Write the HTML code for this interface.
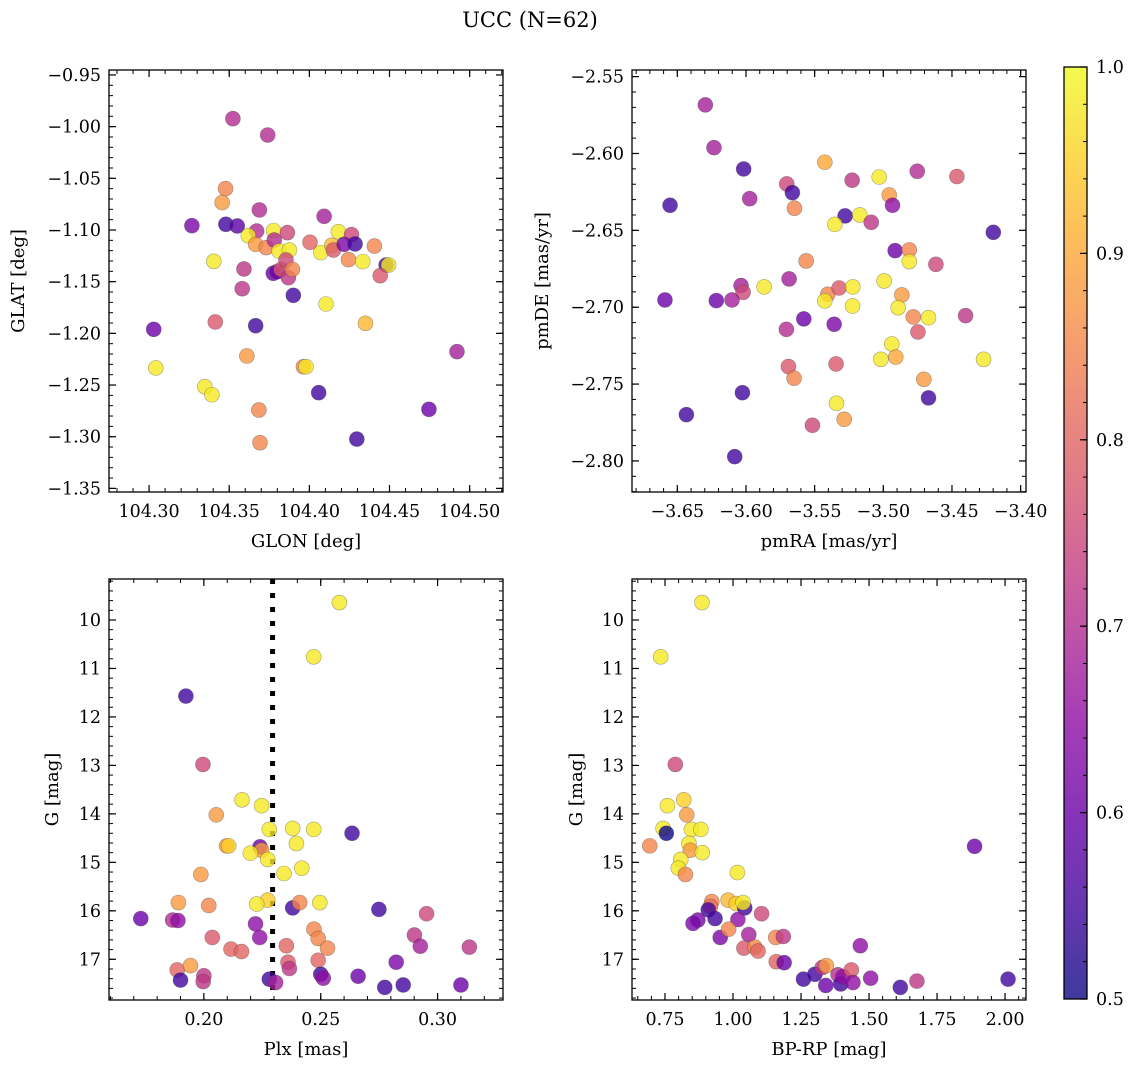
<!DOCTYPE html>
<html><head><meta charset="utf-8"><style>
html,body{margin:0;padding:0;background:#fff;}
svg{display:block;font-family:"DejaVu Serif","Liberation Serif",serif;}
</style></head><body>
<svg id="fig" width="1136" height="1067" viewBox="0 0 1136 1067" xmlns="http://www.w3.org/2000/svg">
<text x="530" y="27" font-size="21" text-anchor="middle">UCC (N=62)</text>
</svg>
<script>
// ---- Data ----
const glon=[104.3523,104.374,104.3477,104.3456,104.3688,104.3267,104.3479,104.355,104.3671,104.3619,104.3777,104.3863,104.3665,104.3731,104.3781,104.381,104.3875,104.3404,104.4092,104.4004,104.4181,104.4263,104.4071,104.414,104.415,104.4217,104.4285,104.4406,104.4244,104.4333,104.4479,104.4494,104.4442,104.3592,104.3581,104.3775,104.38,104.3823,104.3854,104.3869,104.3894,104.39,104.4104,104.3413,104.3665,104.435,104.3029,104.3042,104.361,104.3963,104.3979,104.3348,104.3392,104.4058,104.3685,104.3692,104.4296,104.4746,104.4921];
const glat=[-0.9923,-1.0081,-1.06,-1.0735,-1.0806,-1.0958,-1.0945,-1.0961,-1.101,-1.1055,-1.1006,-1.1026,-1.1139,-1.1171,-1.1097,-1.1203,-1.1194,-1.1303,-1.0868,-1.1119,-1.1016,-1.1045,-1.1219,-1.1148,-1.1194,-1.1139,-1.1135,-1.1155,-1.1287,-1.1306,-1.1339,-1.1339,-1.1442,-1.1377,-1.1568,-1.1419,-1.1403,-1.1381,-1.129,-1.1461,-1.1381,-1.1632,-1.1716,-1.189,-1.1926,-1.1903,-1.1961,-1.2335,-1.2219,-1.2323,-1.2323,-1.2516,-1.2594,-1.2574,-1.2742,-1.3058,-1.3023,-1.2735,-1.2177];
const probA=[.7,.7,.85,.88,.7,.62,.55,.58,.7,.98,.98,.75,.88,.85,.7,.98,.98,.98,.68,.8,.98,.75,.98,.92,.78,.62,.55,.85,.85,.98,.55,.98,.78,.72,.72,.6,.6,.78,.75,.72,.85,.55,.98,.78,.55,.92,.6,.98,.88,.85,.98,.98,.98,.55,.85,.85,.55,.6,.68];

const pmra=[-3.6296,-3.6233,-3.6017,-3.6553,-3.5973,-3.5703,-3.5662,-3.5647,-3.5426,-3.5278,-3.5353,-3.5227,-3.5171,-3.5088,-3.503,-3.4957,-3.4933,-3.4753,-3.4464,-3.4199,-3.4914,-3.4811,-3.4811,-3.4617,-3.5562,-3.5686,-3.5868,-3.6036,-3.6021,-3.659,-3.6216,-3.6102,-3.5404,-3.5426,-3.5322,-3.5222,-3.5224,-3.4994,-3.4865,-3.4892,-3.4782,-3.4671,-3.4401,-3.4748,-3.5579,-3.5358,-3.5706,-3.4938,-3.4909,-3.5018,-3.427,-3.5691,-3.565,-3.5344,-3.4705,-3.4671,-3.6026,-3.6434,-3.5341,-3.5285,-3.5516,-3.6082];
const pmde=[-2.5684,-2.5962,-2.6101,-2.6337,-2.6294,-2.6198,-2.6255,-2.6356,-2.6057,-2.6406,-2.6461,-2.6174,-2.64,-2.6448,-2.6153,-2.627,-2.6337,-2.6116,-2.615,-2.6513,-2.6632,-2.6627,-2.6703,-2.6721,-2.6699,-2.6816,-2.6868,-2.6859,-2.6903,-2.6953,-2.6957,-2.6953,-2.6916,-2.6959,-2.6875,-2.6868,-2.6992,-2.6829,-2.692,-2.7003,-2.7063,-2.7068,-2.7055,-2.7161,-2.7076,-2.7111,-2.7144,-2.7239,-2.7324,-2.7339,-2.7339,-2.7386,-2.7462,-2.7369,-2.7469,-2.759,-2.7556,-2.7699,-2.7625,-2.7729,-2.7768,-2.7972];
const probB=[.68,.68,.55,.55,.68,.75,.55,.85,.9,.55,.98,.72,.98,.72,.98,.88,.65,.7,.78,.55,.6,.85,.98,.75,.85,.68,.98,.68,.75,.6,.6,.68,.85,.98,.78,.98,.98,.98,.88,.98,.85,.98,.72,.78,.6,.62,.7,.98,.9,.98,.98,.78,.85,.78,.88,.55,.55,.55,.98,.88,.75,.55];

const plx=[0.258,0.247,0.1923,0.1996,0.2163,0.2247,0.2053,0.228,0.238,0.247,0.2634,0.2097,0.2106,0.224,0.2247,0.2199,0.2273,0.2396,0.2419,0.2343,0.1987,0.173,0.1891,0.1866,0.1889,0.2021,0.2273,0.2226,0.238,0.241,0.2496,0.2749,0.2953,0.2221,0.2239,0.2471,0.2489,0.2529,0.2353,0.2036,0.2116,0.2161,0.2901,0.2926,0.3136,0.1886,0.1943,0.19,0.2,0.1997,0.228,0.2307,0.236,0.2366,0.2489,0.25,0.2511,0.266,0.2774,0.2823,0.2853,0.31];
const gmagC=[9.64,10.76,11.57,12.98,13.71,13.83,14.02,14.32,14.30,14.32,14.40,14.66,14.66,14.68,14.75,14.81,14.94,14.61,15.12,15.23,15.25,16.16,15.83,16.19,16.20,15.89,15.78,15.86,15.94,15.83,15.83,15.97,16.06,16.27,16.55,16.38,16.57,16.77,16.72,16.55,16.79,16.84,16.50,16.73,16.75,17.22,17.13,17.43,17.34,17.46,17.41,17.48,17.06,17.19,17.02,17.31,17.39,17.35,17.58,17.06,17.53,17.53];
const probC=[.98,.98,.55,.75,.98,.98,.88,.98,.98,.98,.55,.88,.95,.6,.88,.98,.98,.98,.98,.98,.88,.6,.88,.7,.65,.85,.95,.98,.55,.85,.98,.55,.75,.65,.65,.85,.85,.85,.8,.78,.8,.8,.72,.68,.72,.8,.88,.55,.72,.72,.55,.68,.78,.72,.8,.55,.65,.6,.55,.62,.55,.6];
const plxLine=[0.2294];

const bprp=[0.886,0.734,0.788,0.819,0.759,0.830,0.743,0.755,0.847,0.882,0.694,0.838,0.843,0.887,0.808,0.799,0.825,1.016,0.982,0.922,0.917,0.909,1.012,1.043,1.037,0.934,0.871,0.853,1.018,1.105,0.953,0.984,1.058,1.157,1.185,1.040,1.080,1.092,1.159,1.188,1.259,1.301,1.328,1.343,1.341,1.386,1.396,1.404,1.435,1.441,1.468,1.506,1.615,1.676,1.888,2.011];
const gmagD=[9.64,10.76,12.98,13.71,13.83,14.02,14.30,14.40,14.32,14.32,14.66,14.61,14.75,14.80,14.94,15.12,15.25,15.21,15.78,15.81,15.91,15.98,15.85,15.94,15.83,16.16,16.19,16.26,16.18,16.06,16.55,16.38,16.49,16.55,16.53,16.77,16.75,16.83,17.05,17.07,17.41,17.31,17.17,17.13,17.54,17.32,17.51,17.36,17.22,17.48,16.72,17.39,17.58,17.45,14.67,17.41];
const probD=[.98,.98,.75,.95,.98,.88,.98,.5,.98,.98,.85,.98,.88,.98,.98,.98,.85,.98,.92,.85,.82,.55,.95,.55,.98,.55,.62,.62,.65,.75,.62,.85,.68,.85,.72,.78,.85,.8,.8,.6,.55,.55,.72,.88,.6,.7,.55,.65,.78,.65,.65,.65,.55,.72,.6,.55];

const xTicksA=[104.30,104.35,104.40,104.45,104.50];
const yTicksA=[-0.95,-1.00,-1.05,-1.10,-1.15,-1.20,-1.25,-1.30,-1.35];
const xTicksB=[-3.65,-3.60,-3.55,-3.50,-3.45,-3.40];
const yTicksB=[-2.55,-2.60,-2.65,-2.70,-2.75,-2.80];
const xTicksC=[0.20,0.25,0.30];
const yTicksG=[10,11,12,13,14,15,16,17];
const xTicksD=[0.75,1.00,1.25,1.50,1.75,2.00];
const cbTicks=[0.5,0.6,0.7,0.8,0.9,1.0];

// ---- Rendering ----
const NS='http://www.w3.org/2000/svg';
const svg=document.getElementById('fig');
const TFS=17.5, LFS=18;
function mk(tag,attrs,parent){const e=document.createElementNS(NS,tag);for(const k in attrs)e.setAttribute(k,attrs[k]);(parent||svg).appendChild(e);return e;}
const stops=[[13,8,135],[65,4,157],[106,0,168],[143,13,164],[177,42,144],[204,71,120],[225,100,98],[242,132,75],[252,166,54],[252,206,37],[240,249,33]];
function plasma(t){t=Math.max(0,Math.min(1,t));const f=t*10,i=Math.min(9,Math.floor(f)),u=f-i;const a=stops[i],b=stops[i+1];return 'rgb('+a.map((v,k)=>Math.round(v+(b[k]-v)*u)).join(',')+')';}
function cnorm(p){return (p-0.5)/0.5;}
function fmt(v,d){return (v<0?'\u2212':'')+Math.abs(v).toFixed(d);}

function panel(o){
  const g=mk('g',{});
  
  
  const sx=v=>o.x0+(v-o.xmin)/(o.xmax-o.xmin)*(o.x1-o.x0);
  const sy=o.yinv?(v=>o.y0+(v-o.ymin)/(o.ymax-o.ymin)*(o.y1-o.y0)):(v=>o.y1-(v-o.ymin)/(o.ymax-o.ymin)*(o.y1-o.y0));
  const minor=(lo,hi,st)=>{const out=[];for(let v=Math.ceil(lo/st-1e-6)*st;v<=hi+1e-9;v+=st)out.push(v);return out;};
  minor(o.xmin,o.xmax,o.xminor).forEach(v=>{const x=sx(v);
    mk('line',{x1:x,x2:x,y1:o.y1,y2:o.y1-4,stroke:'#000','stroke-width':1},g);
    mk('line',{x1:x,x2:x,y1:o.y0,y2:o.y0+4,stroke:'#000','stroke-width':1},g);});
  minor(o.ymin,o.ymax,o.yminor).forEach(v=>{const y=sy(v);
    mk('line',{x1:o.x0,x2:o.x0+4,y1:y,y2:y,stroke:'#000','stroke-width':1},g);
    mk('line',{x1:o.x1,x2:o.x1-4,y1:y,y2:y,stroke:'#000','stroke-width':1},g);});
  o.xt.forEach(v=>{const x=sx(v);
    mk('line',{x1:x,x2:x,y1:o.y1,y2:o.y1-7,stroke:'#000','stroke-width':1.2},g);
    mk('line',{x1:x,x2:x,y1:o.y0,y2:o.y0+7,stroke:'#000','stroke-width':1.2},g);
    const t=mk('text',{x:x,y:o.y1+25,'font-size':TFS,'text-anchor':'middle'},g);t.textContent=fmt(v,o.xd);
    
    });
  o.yt.forEach(v=>{const y=sy(v);
    mk('line',{x1:o.x0,x2:o.x0+7,y1:y,y2:y,stroke:'#000','stroke-width':1.2},g);
    mk('line',{x1:o.x1,x2:o.x1-7,y1:y,y2:y,stroke:'#000','stroke-width':1.2},g);
    const t=mk('text',{x:o.x0-8,y:y+6,'font-size':TFS,'text-anchor':'end'},g);t.textContent=fmt(v,o.yd);
    
    });
  const cp='cp'+o.name;
  const cl=mk('clipPath',{id:cp},g);mk('rect',{x:o.x0,y:o.y0,width:o.x1-o.x0,height:o.y1-o.y0},cl);
  const pg=mk('g',{'clip-path':'url(#'+cp+')'},g);
  if(o.vline){o.vline.forEach(v=>{const l=mk('line',{x1:sx(v),x2:sx(v),y1:o.y0,y2:o.y1,stroke:'#000','stroke-width':5,'stroke-dasharray':'5,9'},pg);
    
    });}
  o.xs.forEach((xv,i)=>{const c=mk('circle',{cx:sx(xv),cy:sy(o.ys[i]),r:7.5,fill:plasma(cnorm(o.cs[i])),'fill-opacity':0.8,stroke:'rgba(60,60,60,0.45)','stroke-width':0.6},pg);
    
    });
  mk('rect',{x:o.x0,y:o.y0,width:o.x1-o.x0,height:o.y1-o.y0,fill:'none',stroke:'#000','stroke-width':1.3},g);
  const xl=mk('text',{x:(o.x0+o.x1)/2,y:o.y1+55,'font-size':LFS,'text-anchor':'middle'},g);xl.textContent=o.xlabel;
  
  
  const yl=mk('text',{x:o.ylx,y:(o.y0+o.y1)/2,'font-size':LFS,'text-anchor':'middle',transform:'rotate(-90 '+o.ylx+' '+((o.y0+o.y1)/2)+')'},g);yl.textContent=o.ylabel;
  
  
}
panel({name:'panel-glon-glat',x0:109,x1:503,y0:70,y1:492,xmin:104.275,xmax:104.5208,ymin:-1.3535,ymax:-0.9452,xt:xTicksA,yt:yTicksA,xd:2,yd:2,xminor:0.01,yminor:0.01,xs:glon,ys:glat,cs:probA,xlabel:'GLON [deg]',ylabel:'GLAT [deg]',ylx:24});
panel({name:'panel-pm',x0:632,x1:1026,y0:70,y1:492,xmin:-3.683,xmax:-3.3961,ymin:-2.8202,ymax:-2.5457,xt:xTicksB,yt:yTicksB,xd:2,yd:2,xminor:0.01,yminor:0.01,xs:pmra,ys:pmde,cs:probB,xlabel:'pmRA [mas/yr]',ylabel:'pmDE [mas/yr]',ylx:548});
panel({name:'panel-plx-g',x0:109,x1:503,y0:579,y1:1000,xmin:0.1594,xmax:0.328,ymin:9.154,ymax:17.84,yinv:true,xt:xTicksC,yt:yTicksG,xd:2,yd:0,xminor:0.01,yminor:0.2,xs:plx,ys:gmagC,cs:probC,vline:plxLine,xlabel:'Plx [mas]',ylabel:'G [mag]',ylx:58});
panel({name:'panel-cmd',x0:632,x1:1026,y0:579,y1:1000,xmin:0.6287,xmax:2.077,ymin:9.154,ymax:17.84,yinv:true,xt:xTicksD,yt:yTicksG,xd:2,yd:0,xminor:0.05,yminor:0.2,xs:bprp,ys:gmagD,cs:probD,xlabel:'BP-RP [mag]',ylabel:'G [mag]',ylx:582});

// colorbar
const cb=mk('g',{});


const defs=mk('defs',{},cb);
const lg=mk('linearGradient',{id:'cbg',x1:0,y1:1,x2:0,y2:0},defs);
for(let i=0;i<=20;i++){mk('stop',{offset:(i/20),'stop-color':plasma(i/20),'stop-opacity':0.8},lg);}
const cbx0=1064,cbx1=1087,cby0=67,cby1=999;
mk('rect',{x:cbx0,y:cby0,width:cbx1-cbx0,height:cby1-cby0,fill:'url(#cbg)'},cb);
const cy=v=>cby1-(v-0.5)/0.5*(cby1-cby0);
for(let k=0;k<=25;k++){const v=0.5+k*0.02;const y=cy(v);mk('line',{x1:cbx1,x2:cbx1-4,y1:y,y2:y,stroke:'#000','stroke-width':1},cb);}
cbTicks.forEach(v=>{const y=cy(v);mk('line',{x1:cbx1,x2:cbx1-7,y1:y,y2:y,stroke:'#000','stroke-width':1.2},cb);
  const t=mk('text',{x:cbx1+9,y:y+6,'font-size':TFS},cb);t.textContent=v.toFixed(1);
  
  });
mk('rect',{x:cbx0,y:cby0,width:cbx1-cbx0,height:cby1-cby0,fill:'none',stroke:'#000','stroke-width':1.3},cb);
</script>
</body></html>
